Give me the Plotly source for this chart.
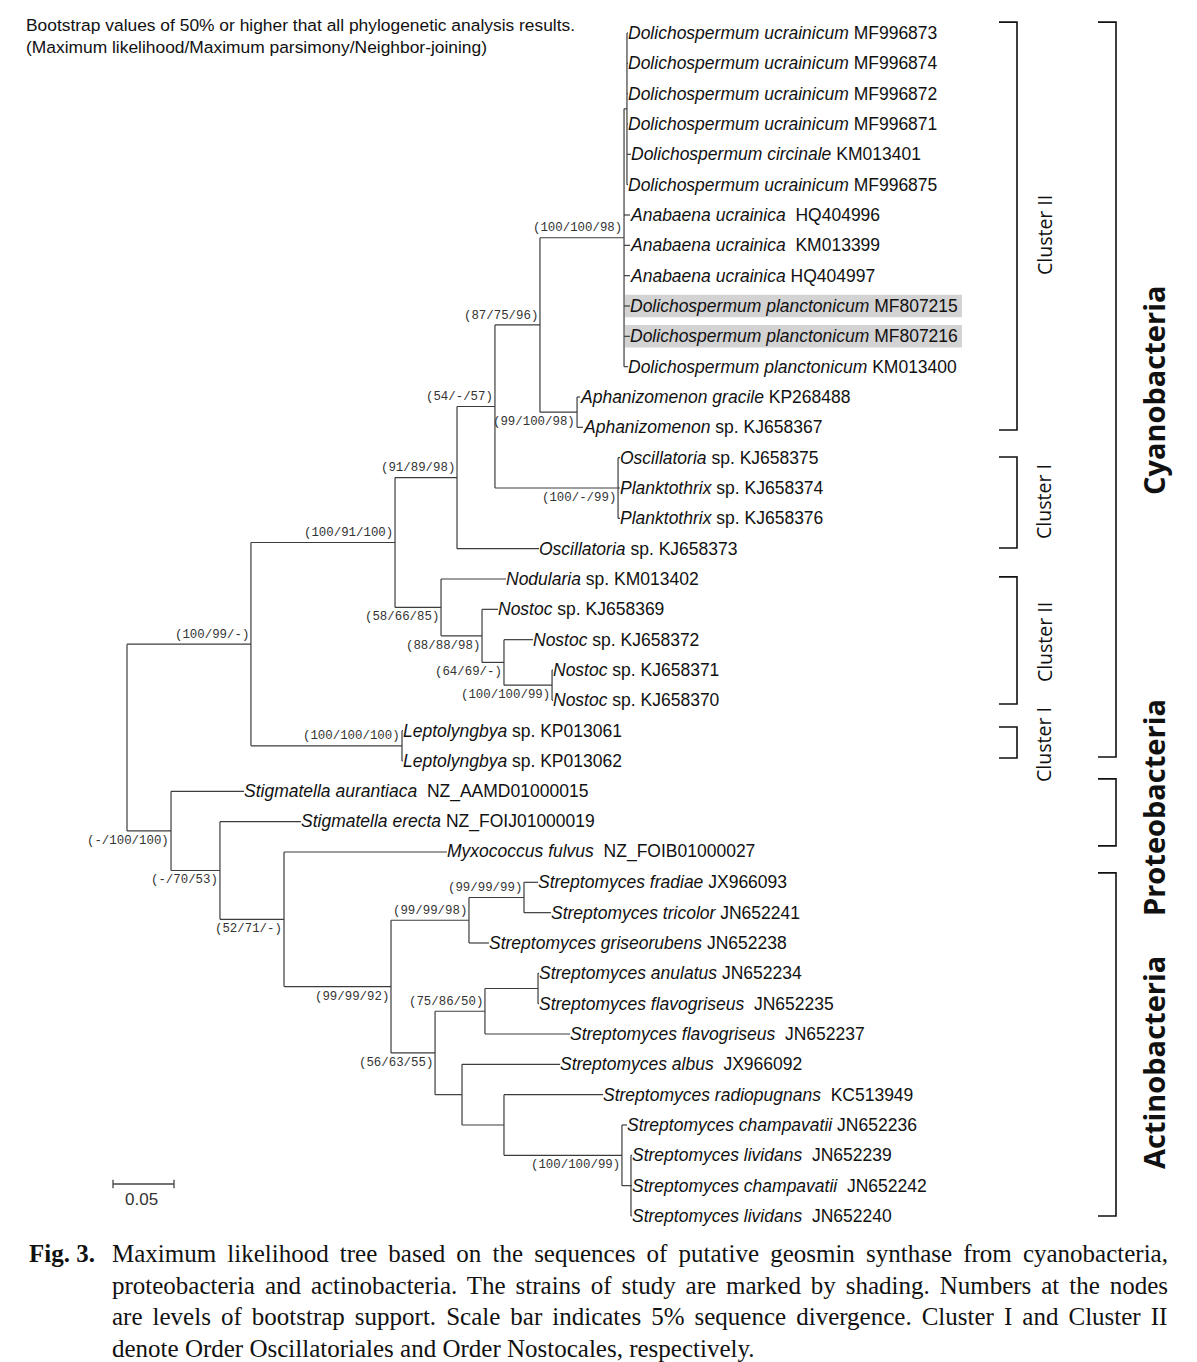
import plotly.graph_objects as go

W, H = 1197, 1362

# ---------------- data ----------------
# leaf labels (italic part, plain part) in top-to-bottom order
leaf_italic = [
    "Dolichospermum ucrainicum", "Dolichospermum ucrainicum", "Dolichospermum ucrainicum",
    "Dolichospermum ucrainicum", "Dolichospermum circinale", "Dolichospermum ucrainicum",
    "Anabaena ucrainica", "Anabaena ucrainica", "Anabaena ucrainica",
    "Dolichospermum planctonicum", "Dolichospermum planctonicum", "Dolichospermum planctonicum",
    "Aphanizomenon gracile", "Aphanizomenon",
    "Oscillatoria", "Planktothrix", "Planktothrix", "Oscillatoria",
    "Nodularia", "Nostoc", "Nostoc", "Nostoc", "Nostoc",
    "Leptolyngbya", "Leptolyngbya",
    "Stigmatella aurantiaca", "Stigmatella erecta", "Myxococcus fulvus",
    "Streptomyces fradiae", "Streptomyces tricolor", "Streptomyces griseorubens",
    "Streptomyces anulatus", "Streptomyces flavogriseus", "Streptomyces flavogriseus",
    "Streptomyces albus", "Streptomyces radiopugnans", "Streptomyces champavatii",
    "Streptomyces lividans", "Streptomyces champavatii", "Streptomyces lividans",
]
leaf_plain = [
    " MF996873", " MF996874", " MF996872", " MF996871", " KM013401", " MF996875",
    "\u00a0 HQ404996", "\u00a0 KM013399", " HQ404997",
    " MF807215", " MF807216", " KM013400",
    " KP268488", " sp. KJ658367",
    " sp. KJ658375", " sp. KJ658374", " sp. KJ658376", " sp. KJ658373",
    " sp. KM013402", " sp. KJ658369", " sp. KJ658372", " sp. KJ658371", " sp. KJ658370",
    " sp. KP013061", " sp. KP013062",
    "\u00a0 NZ_AAMD01000015", " NZ_FOIJ01000019", "\u00a0 NZ_FOIB01000027",
    " JX966093", " JN652241", " JN652238",
    " JN652234", "\u00a0 JN652235", "\u00a0 JN652237",
    "\u00a0 JX966092", "\u00a0 KC513949", " JN652236",
    "\u00a0 JN652239", "\u00a0 JN652242", "\u00a0 JN652240",
]
# distance of each leaf tip from the root (substitutions/site)
leaf_depth = [
    0.4107, 0.4107, 0.4107, 0.4107, 0.4131, 0.4107,
    0.4123, 0.4123, 0.4123, 0.4123, 0.4123, 0.4107,
    0.3713, 0.3738,
    0.4041, 0.4041, 0.4041, 0.3377,
    0.3107, 0.3041, 0.3328, 0.3492, 0.3492,
    0.2262, 0.2262,
    0.0959, 0.1426, 0.2623,
    0.3369, 0.3475, 0.2967,
    0.3377, 0.3377, 0.3631,
    0.3549, 0.3902, 0.4098,
    0.4139, 0.4139, 0.4139,
]
shaded_leaves = [9, 10]  # strains of this study

# internal nodes: name, depth, children (int = leaf index, str = node), bootstrap, label side
node_names = ["D1", "D", "AP", "C4", "PL", "C3", "C2", "N3", "N2", "N1", "N0", "C1", "L", "C0",
              "A3", "A2", "A6a", "A6", "A10", "A9", "A8", "A7", "A5", "A1", "A0", "P2", "P1", "R"]
node_depth = [0.4098, 0.4074, 0.3689, 0.3385, 0.4025, 0.3016, 0.2705, 0.3484, 0.3090, 0.2910,
              0.2574, 0.2197, 0.2254, 0.1016,
              0.3254, 0.2803, 0.3369, 0.2934, 0.4131, 0.4057, 0.3090, 0.2746, 0.2525, 0.2164,
              0.1287, 0.0762, 0.0361, 0.0]
node_children = [
    [0, 1, 2, 3, 4, 5], ["D1", 6, 7, 8, 9, 10, 11], [12, 13], ["D", "AP"], [14, 15, 16],
    ["C4", "PL"], ["C3", 17], [21, 22], [20, "N3"], [19, "N2"], [18, "N1"], ["C2", "N0"],
    [23, 24], ["C1", "L"],
    [28, 29], ["A3", 30], [31, 32], ["A6a", 33], [37, 38, 39], [36, "A10"], [35, "A9"],
    [34, "A8"], ["A6", "A7"], ["A2", "A5"], [27, "A1"], [26, "A0"], [25, "P2"], ["C0", "P1"],
]
node_support = ["", "(100/100/98)", "(99/100/98)", "(87/75/96)", "(100/-/99)", "(54/-/57)",
                "(91/89/98)", "(100/100/99)", "(64/69/-)", "(88/88/98)", "(58/66/85)",
                "(100/91/100)", "(100/100/100)", "(100/99/-)",
                "(99/99/99)", "(99/99/98)", "", "(75/86/50)", "", "(100/100/99)", "", "",
                "(56/63/55)", "(99/99/92)", "(52/71/-)", "(-/70/53)", "(-/100/100)", ""]
node_side = ["", "up", "down", "up", "down", "up", "up", "down", "down", "down", "down",
             "up", "up", "up",
             "up", "up", "", "up", "", "down", "", "", "down", "down", "down", "down", "down", ""]

# clade brackets (rows in leaf units)
bracket_text = ["Cluster II", "Cluster I", "Cluster II", "Cluster I",
                "Cyanobacteria", "Proteobacteria", "Actinobacteria"]
bracket_top = [-0.36, 13.98, 17.93, 22.88, -0.36, 24.59, 27.69]
bracket_bottom = [13.09, 16.98, 22.12, 23.90, 23.87, 26.80, 39.0]
bracket_label_row = [6.66, 15.46, 20.08, 23.47, 11.77, 25.55, 33.96]
bracket_level = [0, 0, 0, 0, 1, 1, 1]

header_lines = ["Bootstrap values of 50% or higher that all phylogenetic analysis results.",
                "(Maximum likelihood/Maximum parsimony/Neighbor-joining)"]
caption_lines = [
    "Maximum likelihood tree based on the sequences of putative geosmin synthase from cyanobacteria,",
    "proteobacteria and actinobacteria. The strains of study are marked by shading. Numbers at the nodes",
    "are levels of bootstrap support. Scale bar indicates 5% sequence divergence. Cluster I and Cluster II",
    "denote Order Oscillatoriales and Order Nostocales, respectively.",
]
caption_word_spacing = [4.86, 3.66, 3.79, 0]
scale_value = 0.05

# ---------------- layout constants ----------------
PX_PER_UNIT = 1220.0
ROOT_PX = 127.0
ROW_PX = 30.333
ROW0_PX = 33.0
LINE_COL = "#3c3c3c"


def px_y_to_row(py):
    return (py - ROW0_PX) / ROW_PX


def px_x_to_unit(px):
    return (px - ROOT_PX) / PX_PER_UNIT


# ---------------- tree geometry ----------------
idx = {n: i for i, n in enumerate(node_names)}
node_y = {}


def ypos(c):
    if isinstance(c, int):
        return float(c)
    if c in node_y:
        return node_y[c]
    ch = node_children[idx[c]]
    v = (ypos(ch[0]) + ypos(ch[-1])) / 2.0
    node_y[c] = v
    return v


def xpos(c):
    return leaf_depth[c] if isinstance(c, int) else node_depth[idx[c]]


for n in node_names:
    ypos(n)

lx, ly = [], []
for n in node_names:
    d = node_depth[idx[n]]
    ch = node_children[idx[n]]
    lx += [d, d, None]
    ly += [ypos(ch[0]), ypos(ch[-1]), None]
    for c in ch:
        lx += [d, xpos(c), None]
        ly += [ypos(c), ypos(c), None]

fig = go.Figure()
fig.add_trace(go.Scatter(x=lx, y=ly, mode="lines",
                         line=dict(color=LINE_COL, width=1.2), hoverinfo="skip", showlegend=False))

# scale bar
sb_x0 = px_x_to_unit(113)
sb_y = px_y_to_row(1184)
tick = 0.14
fig.add_trace(go.Scatter(
    x=[sb_x0, sb_x0 + scale_value, None, sb_x0, sb_x0, None, sb_x0 + scale_value, sb_x0 + scale_value],
    y=[sb_y, sb_y, None, sb_y - tick, sb_y + tick, None, sb_y - tick, sb_y + tick],
    mode="lines", line=dict(color="#444444", width=1.3), hoverinfo="skip", showlegend=False))

annotations = []
shapes = []

# shading of study strains
for i in shaded_leaves:
    shapes.append(dict(type="rect", xref="x", yref="y", layer="below",
                       x0=px_x_to_unit(625), x1=px_x_to_unit(962), y0=i - 0.37, y1=i + 0.37,
                       fillcolor="#d3d3d3", line=dict(width=0)))

# leaf labels
for i in range(len(leaf_italic)):
    annotations.append(dict(
        x=leaf_depth[i], y=i, xref="x", yref="y", xanchor="left", yanchor="middle",
        xshift=-1, showarrow=False, borderpad=0,
        text="<i>" + leaf_italic[i] + "</i>" + leaf_plain[i],
        font=dict(family="Liberation Sans, Arial", size=17.5, color="#111111")))

# bootstrap labels
for n in node_names:
    k = idx[n]
    if not node_support[k]:
        continue
    off = -0.31 if node_side[k] == "up" else 0.33
    annotations.append(dict(
        x=node_depth[k], y=node_y[n] + off, xref="x", yref="y", xanchor="right", yanchor="middle",
        xshift=-1, showarrow=False, borderpad=0, text=node_support[k],
        font=dict(family="Liberation Mono, monospace", size=12.4, color="#333333")))

# scale label
annotations.append(dict(x=sb_x0 + scale_value / 2, y=px_y_to_row(1199), xref="x", yref="y",
                        xanchor="center", yanchor="middle", xshift=-2, showarrow=False, borderpad=0,
                        text=str(scale_value),
                        font=dict(family="Liberation Sans, Arial", size=17, color="#333333")))

# header text
for j, t in enumerate(header_lines):
    annotations.append(dict(x=25 / W, y=1 - (25 + 22 * j) / H, xref="paper", yref="paper",
                            xanchor="left", yanchor="middle", showarrow=False, borderpad=0, text=t,
                            font=dict(family="Liberation Sans, Arial", size=17.4, color="#111111")))

# brackets
for b in range(len(bracket_text)):
    xv = 1017 if bracket_level[b] == 0 else 1116
    xt = xv - 18
    shapes.append(dict(type="path", xref="paper", yref="y",
                       path=f"M {xt / W} {bracket_top[b]} L {xv / W} {bracket_top[b]} "
                            f"L {xv / W} {bracket_bottom[b]} L {xt / W} {bracket_bottom[b]}",
                       line=dict(color="#111111", width=1.6)))
    if bracket_level[b] == 0:
        annotations.append(dict(x=1044 / W, y=bracket_label_row[b], xref="paper", yref="y",
                                xanchor="center", yanchor="middle", textangle=-90, showarrow=False,
                                borderpad=0, text=bracket_text[b],
                                font=dict(family="Open Sans, Noto Sans", size=19.5, color="#111111")))
    else:
        annotations.append(dict(x=1153 / W, y=bracket_label_row[b], xref="paper", yref="y",
                                xanchor="center", yanchor="middle", textangle=-90, showarrow=False,
                                borderpad=0, text="<b>" + bracket_text[b] + "</b>",
                                font=dict(family="Open Sans, Noto Sans", size=29, color="#111111")))

# caption
cap_centers = [1253.6, 1285.0, 1316.5, 1348.0]
annotations.append(dict(x=28 / W, y=1 - cap_centers[0] / H, xref="paper", yref="paper",
                        xanchor="left", yanchor="middle", showarrow=False, borderpad=0,
                        text="<b>Fig. 3.</b>",
                        font=dict(family="Liberation Serif, Times New Roman", size=25, color="#111111")))
for j, t in enumerate(caption_lines):
    txt = t
    if caption_word_spacing[j]:
        txt = f'<span style="word-spacing:{caption_word_spacing[j]}px">{t}</span>'
    annotations.append(dict(x=111 / W, y=1 - cap_centers[j] / H, xref="paper", yref="paper",
                            xanchor="left", yanchor="middle", showarrow=False, borderpad=0, text=txt,
                            font=dict(family="Liberation Serif, Times New Roman", size=25,
                                      color="#111111")))

fig.update_layout(
    width=W, height=H, margin=dict(l=0, r=0, t=0, b=0),
    paper_bgcolor="white", plot_bgcolor="white",
    xaxis=dict(range=[px_x_to_unit(0), px_x_to_unit(W)], visible=False, fixedrange=True),
    yaxis=dict(range=[px_y_to_row(H), px_y_to_row(0)], visible=False, fixedrange=True),
    annotations=annotations, shapes=shapes, showlegend=False,
)

fig.write_html("out.html", config={"displayModeBar": False},
               post_script="document.body.style.margin='0';document.body.style.overflow='hidden';")
